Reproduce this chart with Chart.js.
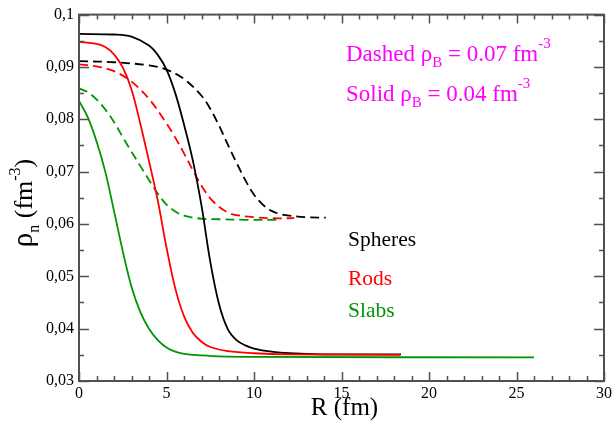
<!DOCTYPE html>
<html>
<head>
<meta charset="utf-8">
<script src="https://cdn.jsdelivr.net/npm/chart.js@4/dist/chart.umd.min.js"></script>
<style>
  body { margin: 0; background: #fff; }
  #wrap { width: 615px; height: 424px; position: relative; }
</style>
</head>
<body>
<div id="wrap"><canvas id="cv"></canvas></div>
<script>
// R in fm, rho_n in fm^-3
var rSpheresSolid = [0, 2, 3, 4, 4.5, 5, 5.5, 6, 6.5, 7, 7.5, 8, 8.5, 9, 9.5, 10, 11, 12, 14, 18.4];
var nSpheresSolid = [0.0963, 0.0962, 0.0958, 0.0941, 0.0923, 0.0895, 0.0850, 0.0790, 0.0722, 0.0635, 0.0528, 0.0447, 0.0399, 0.0378, 0.0368, 0.0362, 0.0356, 0.0353, 0.0351, 0.0351];

var rRodsSolid = [0, 1, 1.5, 2, 2.5, 3, 3.5, 4, 4.5, 5, 5.5, 6, 6.5, 7, 7.5, 8.5, 10, 12, 18.35];
var nRodsSolid = [0.0948, 0.0944, 0.0938, 0.0924, 0.0899, 0.0857, 0.0792, 0.0720, 0.0645, 0.0555, 0.0477, 0.0424, 0.0392, 0.0375, 0.0365, 0.0357, 0.0353, 0.0351, 0.0350];

var rSlabsSolid = [0, 0.5, 1, 1.5, 2, 2.5, 3, 3.5, 4, 4.5, 5, 5.5, 6, 7, 8, 10, 26];
var nSlabsSolid = [0.0835, 0.0804, 0.0758, 0.0700, 0.0625, 0.0548, 0.0480, 0.0432, 0.0400, 0.0378, 0.0364, 0.0356, 0.0352, 0.0349, 0.0347, 0.0346, 0.0345];

var rSpheresDashed = [0, 2, 4, 5, 6, 7, 7.5, 8, 8.5, 9, 9.5, 10, 10.5, 11, 11.5, 12, 13, 14.1];
var nSpheresDashed = [0.0911, 0.0909, 0.0903, 0.0895, 0.0877, 0.0845, 0.0820, 0.0788, 0.0752, 0.0717, 0.0684, 0.0656, 0.0637, 0.0625, 0.0619, 0.0616, 0.0613, 0.0612];

var rRodsDashed = [0, 1, 2, 3, 4, 5, 5.5, 6, 6.5, 7, 7.5, 8, 8.5, 9, 10, 11, 12.3];
var nRodsDashed = [0.0905, 0.0901, 0.0892, 0.0872, 0.0839, 0.0792, 0.0765, 0.0735, 0.0703, 0.0673, 0.0649, 0.0633, 0.0622, 0.0617, 0.0613, 0.0611, 0.0611];

var rSlabsDashed = [0, 0.5, 1, 1.5, 2, 2.5, 3, 3.5, 4, 4.5, 5, 5.5, 6, 7, 8, 9.5, 11.5];
var nSlabsDashed = [0.0859, 0.0852, 0.0838, 0.0819, 0.0795, 0.0766, 0.0738, 0.0711, 0.0684, 0.0658, 0.0637, 0.0624, 0.0616, 0.0610, 0.0609, 0.0608, 0.0608];

var xTickStep = 5;
var yTickStep = 0.01;

var serif = '"Liberation Serif", "Times New Roman", serif';
var green = "rgb(0,150,0)";

function pts(rs, ns) {
    var out = [];
    for (var i = 0; i < rs.length; i++) out.push({ x: rs[i], y: ns[i] });
    return out;
}

function series(rs, ns, color, dashed) {
    return {
        data: pts(rs, ns),
        borderColor: color,
        borderWidth: 1.8,
        borderDash: dashed ? [9, 5] : [],
        pointRadius: 0,
        fill: false,
        tension: 0.35
    };
}

// draw a run of text pieces, each with its own size and vertical shift
function richText(ctx, parts, x, y, align) {
    var w = 0;
    parts.forEach(function (p) {
        ctx.font = p.size + "px " + serif;
        w += ctx.measureText(p.t).width;
    });
    var cx = align == "center" ? x - w / 2 : x;
    parts.forEach(function (p) {
        ctx.font = p.size + "px " + serif;
        ctx.fillText(p.t, cx, y + (p.dy || 0));
        cx += ctx.measureText(p.t).width;
    });
}

var framePlugin = {
    id: "frame",
    afterDatasetsDraw: function (chart) {
        var ctx = chart.ctx;
        var xs = chart.scales.x, ys = chart.scales.y;
        var a = chart.chartArea;
        ctx.save();
        ctx.strokeStyle = "#505050";
        ctx.lineWidth = 2;
        ctx.strokeRect(a.left, a.top, a.right - a.left, a.bottom - a.top);
        ctx.lineWidth = 1.5;
        ctx.beginPath();
        for (var v = 0; v <= 30; v++) {
            var px = Math.round(xs.getPixelForValue(v)) + 0.5;
            var len = v % 5 == 0 ? 9 : 5;
            ctx.moveTo(px, a.bottom); ctx.lineTo(px, a.bottom - len);
            ctx.moveTo(px, a.top); ctx.lineTo(px, a.top + len);
        }
        for (var k = 0; k <= 14; k++) {
            var val = 0.03 + k * 0.005;
            var py = Math.round(ys.getPixelForValue(val)) + 0.5;
            var l2 = k % 2 == 0 ? 10 : 5;
            ctx.moveTo(a.left, py); ctx.lineTo(a.left + l2, py);
            ctx.moveTo(a.right, py); ctx.lineTo(a.right - l2, py);
        }
        ctx.stroke();
        ctx.restore();
    },
    afterDraw: function (chart) {
        var ctx = chart.ctx;
        var a = chart.chartArea;
        ctx.save();
        ctx.textBaseline = "alphabetic";
        ctx.fillStyle = "#000";

        // axis titles
        richText(ctx, [{ t: "R (fm)", size: 25 }], (a.left + a.right) / 2 + 3, 415, "center");
        ctx.save();
        ctx.translate(32, 203);
        ctx.rotate(-Math.PI / 2);
        richText(ctx, [
            { t: "\u03c1", size: 29 },
            { t: "n", size: 16, dy: 7 },
            { t: " (fm", size: 26 },
            { t: "-3", size: 16, dy: -12 },
            { t: ")", size: 26 }
        ], 0, 0, "center");
        ctx.restore();

        // density notes
        ctx.fillStyle = "#ff00ff";
        richText(ctx, [
            { t: "Dashed \u03c1", size: 23 },
            { t: "B", size: 15, dy: 6 },
            { t: " = 0.07 fm", size: 23 },
            { t: "-3", size: 15, dy: -13 }
        ], 346, 61);
        richText(ctx, [
            { t: "Solid \u03c1", size: 23 },
            { t: "B", size: 15, dy: 6 },
            { t: " = 0.04 fm", size: 23 },
            { t: "-3", size: 15, dy: -13 }
        ], 346, 101);

        // curve labels
        ctx.font = "21.5px " + serif;
        ctx.fillStyle = "#000";
        ctx.fillText("Spheres", 348, 246);
        ctx.fillStyle = "#ff0000";
        ctx.fillText("Rods", 348, 285);
        ctx.fillStyle = green;
        ctx.fillText("Slabs", 348, 317);
        ctx.restore();
    }
};

var config = {
    type: "line",
    data: {
        datasets: [
            series(rSlabsSolid, nSlabsSolid, green, false),
            series(rRodsSolid, nRodsSolid, "#ff0000", false),
            series(rSpheresSolid, nSpheresSolid, "#000000", false),
            series(rSlabsDashed, nSlabsDashed, green, true),
            series(rRodsDashed, nRodsDashed, "#ff0000", true),
            series(rSpheresDashed, nSpheresDashed, "#000000", true)
        ]
    },
    options: {
        responsive: true,
        maintainAspectRatio: false,
        animation: false,
        layout: { padding: { left: 0, top: 13, right: 8, bottom: 0 } },
        plugins: { legend: { display: false }, tooltip: { enabled: false } },
        scales: {
            x: {
                type: "linear",
                min: 0, max: 30,
                grid: { display: false, drawTicks: false },
                border: { display: false },
                ticks: {
                    stepSize: xTickStep,
                    padding: 3,
                    color: "#000",
                    font: { family: serif, size: 16 },
                    maxRotation: 0,
                    autoSkip: false
                },
                afterFit: function (s) { s.height = 43; }
            },
            y: {
                type: "linear",
                min: 0.03, max: 0.1,
                grid: { display: false, drawTicks: false },
                border: { display: false },
                ticks: {
                    stepSize: yTickStep,
                    padding: 5,
                    color: "#000",
                    font: { family: serif, size: 16 },
                    callback: function (v) {
                        return String(Math.round(v * 100) / 100).replace(".", ",");
                    }
                },
                afterFit: function (s) { s.width = 79; }
            }
        }
    },
    plugins: [framePlugin]
};

new Chart(document.getElementById("cv").getContext("2d"), config);
</script>
</body>
</html>
